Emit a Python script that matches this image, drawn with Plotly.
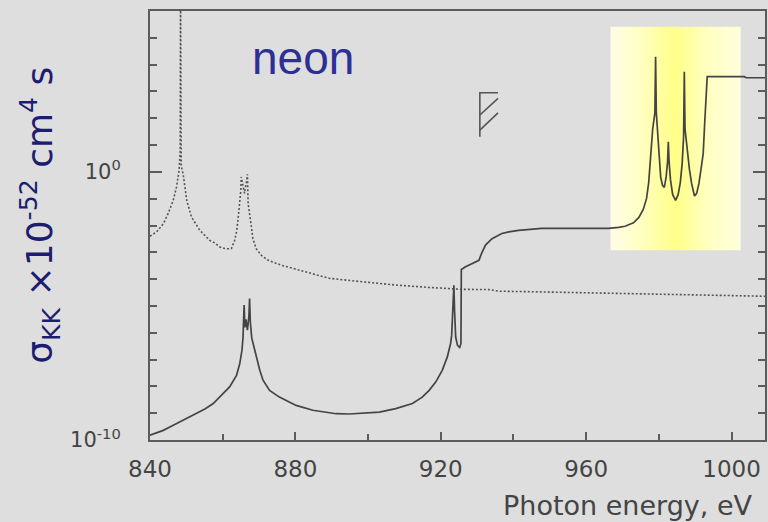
import plotly.graph_objects as go

# ---------------- data ----------------
# photon energy (eV) and log10(sigma_KK) of the solid curve
solid_energy = [840, 841.8, 843.65, 846, 848.2, 850.5, 852.8, 855.1, 857.4, 860.1,
                861.9, 863.8, 864.7, 865.3, 865.6, 865.8, 865.9, 866.1, 866.4, 866.8,
                867.2, 867.4, 867.6, 868.0, 868.8, 870.2, 871.1, 872.9, 875.6, 880.2,
                884.8, 891.2, 894.8, 898.5, 903.1, 907.6, 912.2, 914.9, 916.8, 918.6,
                920.4, 921.8, 922.7, 923.0, 923.3, 923.6, 923.8, 924.1, 924.6, 925.2,
                925.55, 925.65, 926.8, 928.6, 930.5, 931.2, 932.3, 934.1, 936.8, 938.7,
                941.4, 947.8, 966.1, 968.9, 970.7, 973.0, 974.5, 975.7, 976.6, 977.2,
                977.8, 978.3, 978.9, 979.1, 979.3, 979.6, 980.0, 980.5, 981.0, 981.5,
                982.0, 982.4, 982.6, 982.8, 983.2, 983.8, 984.6, 985.3, 985.9, 986.4,
                986.8, 987.0, 987.2, 987.9, 988.4, 989.0, 989.8, 990.4, 991.0, 991.6,
                992.2, 992.6, 993.0, 993.3, 1003.5, 1004.0, 1009.5]
solid_log = [-9.82, -9.73, -9.64, -9.48, -9.33, -9.18, -9.02, -8.84, -8.64, -8.27,
             -8.02, -7.59, -7.15, -6.65, -6.16, -5.3, -4.97, -5.8, -5.5, -5.9,
             -5.4, -4.72, -5.6, -6.2, -6.65, -7.40, -7.77, -8.15, -8.40, -8.71,
             -8.89, -9.02, -9.03, -8.99, -8.96, -8.83, -8.64, -8.40, -8.15, -7.84,
             -7.40, -6.90, -6.40, -6.09, -5.3, -4.23, -5.2, -6.16, -6.47, -6.55,
             -6.4, -3.64, -3.54, -3.42, -3.3, -3.05, -2.73, -2.49, -2.30, -2.24,
             -2.18, -2.11, -2.11, -2.07, -2.03, -1.9, -1.7, -1.4, -1.0, -0.4,
             0.69, 1.6, 2.2, 4.29, 2.2, 1.5, 0.6, -0.2, -0.5, -0.58,
             -0.2, 0.4, 1.12, 0.4, -0.3, -0.85, -1.06, -0.85, -0.4, 0.3,
             1.3, 3.73, 1.6, 0.69, 0.1, -0.43, -0.9, -0.8, -0.45, 0.1,
             0.69, 1.8, 3.0, 3.55, 3.55, 3.51, 3.51]

# photon energy (eV) and log10(sigma_KK) of the dotted curve
dotted_energy = [840, 841.8, 843.7, 845.0, 846.4, 847.3, 848.0, 848.3, 848.4, 848.5,
                 848.6, 849.1, 850.1, 851.4, 853.7, 856.4, 857.8, 859.2, 860.6, 861.9,
                 862.4, 863.3, 863.8, 864.2, 864.7, 865.0, 865.1, 865.5, 866.0, 866.5,
                 866.8, 867.0, 867.4, 867.9, 868.3, 869.2, 870.6, 872.4, 876.1, 879.3,
                 884.0, 889.3, 898.5, 907.6, 916.8, 925.8, 933.2, 936.0, 945.0, 955.0,
                 964.0, 975.0, 991.0, 1000.0, 1009.5]
dotted_log = [-2.4, -2.24, -1.93, -1.55, -1.06, -0.56, 0.06, 0.8, 7.0, 0.8,
              0.2, -0.06, -1.06, -1.68, -2.18, -2.55, -2.65, -2.80, -2.86, -2.87,
              -2.86, -2.55, -2.24, -1.8, -1.18, -0.68, -0.19, -0.5, -0.8, -0.4,
              -0.09, -1.18, -1.68, -2.05, -2.49, -2.86, -3.11, -3.29, -3.48, -3.6,
              -3.8, -3.97, -4.1, -4.22, -4.31, -4.38, -4.39, -4.45, -4.47, -4.5,
              -4.52, -4.56, -4.6, -4.62, -4.64]

x_tick_vals = [840, 880, 920, 960, 1000]
x_tick_text = ["840", "880", "920", "960", "1000"]
y_tick_vals = [1e-10, 1e0]
y_tick_text = ["10<sup>-10</sup>", "10<sup>0</sup>"]

solid_sigma = [10 ** v for v in solid_log]
dotted_sigma = [10 ** v for v in dotted_log]

BG = "#dedede"
AX = "#5c5c5c"
TXT = "#444444"
FONT = "DejaVu Sans, Verdana, sans-serif"
FONT2 = "Liberation Sans, Arial, sans-serif"

fig = go.Figure()

# highlighted region (yellow gradient box)
bx0, bx1, by0, by1 = 966.7, 1002.5, 10 ** -2.92, 10 ** 5.41
fig.add_trace(go.Scatter(
    x=[bx0, bx1, bx1, bx0, bx0], y=[by0, by0, by1, by1, by0],
    mode="lines", fill="toself", line=dict(width=0),
    fillgradient=dict(type="horizontal",
                      colorscale=[[0, "#fffce6"], [0.22, "#ffffc4"], [0.5, "#ffff88"],
                                  [0.78, "#ffffc6"], [1, "#ffffdc"]]),
    hoverinfo="skip", showlegend=False))

fig.add_trace(go.Scatter(x=dotted_energy, y=dotted_sigma, mode="lines",
                         line=dict(color="#555555", width=1.6, dash="2px,2px"),
                         showlegend=False))
fig.add_trace(go.Scatter(x=solid_energy, y=solid_sigma, mode="lines",
                         line=dict(color="#444444", width=1.7),
                         showlegend=False))

# hatched marker
hx = [930.75, 930.75, 935.75, None, 930.75, 935.75, None, 930.75, 935.75]
hy = [10 ** 1.31, 10 ** 2.95, 10 ** 2.95, None, 10 ** 2.12, 10 ** 2.74, None,
      10 ** 1.56, 10 ** 2.20]
fig.add_trace(go.Scatter(x=hx, y=hy, mode="lines",
                         line=dict(color="#555555", width=1.6),
                         hoverinfo="skip", showlegend=False))

fig.update_layout(
    width=768, height=522,
    margin=dict(l=150, r=1, t=11, b=82),
    paper_bgcolor=BG, plot_bgcolor=BG,
    font=dict(family=FONT, color=TXT),
    showlegend=False,
)

fig.update_xaxes(
    range=[840, 1009.2], showgrid=False, zeroline=False,
    showline=True, linecolor=AX, linewidth=2, mirror=True,
    ticks="inside", ticklen=8, tickwidth=1.5, tickcolor=AX,
    tickmode="array", tickvals=x_tick_vals, ticktext=x_tick_text,
    tickfont=dict(size=23, color=TXT, family=FONT), ticklabelstandoff=7,
    minor=dict(tickmode="array", tickvals=[860, 900, 940, 980], ticks="inside",
               ticklen=6, tickwidth=1.5, tickcolor=AX, showgrid=False),
)
fig.update_yaxes(
    type="log", range=[-10, 6], showgrid=False, zeroline=False,
    showline=True, linecolor=AX, linewidth=2, mirror="ticks",
    ticks="inside", ticklen=12, tickwidth=1.5, tickcolor=AX,
    tickmode="array", tickvals=y_tick_vals, ticktext=y_tick_text,
    tickfont=dict(size=21, color=TXT, family=FONT), ticklabelstandoff=23,
    minor=dict(tickmode="array", tickvals=[10 ** k for k in range(-9, 6)],
               ticks="inside", ticklen=7, tickwidth=1.5, tickcolor=AX, showgrid=False),
)

# texts
fig.add_annotation(text="neon", xref="paper", yref="paper", x=0.248, y=0.89,
                   xanchor="center", yanchor="middle", showarrow=False,
                   font=dict(size=46, color="#2d2f96", family=FONT2))
fig.add_annotation(text="σ<sub>KK</sub> ×10<sup>-52</sup> cm<sup>4</sup> s",
                   xref="paper", yref="paper", x=-0.178, y=0.524,
                   xanchor="center", yanchor="middle", textangle=-90, showarrow=False,
                   font=dict(size=36, color="#1c1c70", family=FONT))
fig.add_annotation(text="Photon energy, eV", xref="paper", yref="paper",
                   x=0.984, y=-0.153, xanchor="right", yanchor="middle",
                   showarrow=False, font=dict(size=27, color=TXT, family=FONT))

fig.write_html(
    "out.html",
    config={"displayModeBar": False},
    post_script="document.body.style.margin='0px';"
                "document.body.style.backgroundColor='#dedede';"
                "document.body.style.overflow='hidden';",
)
